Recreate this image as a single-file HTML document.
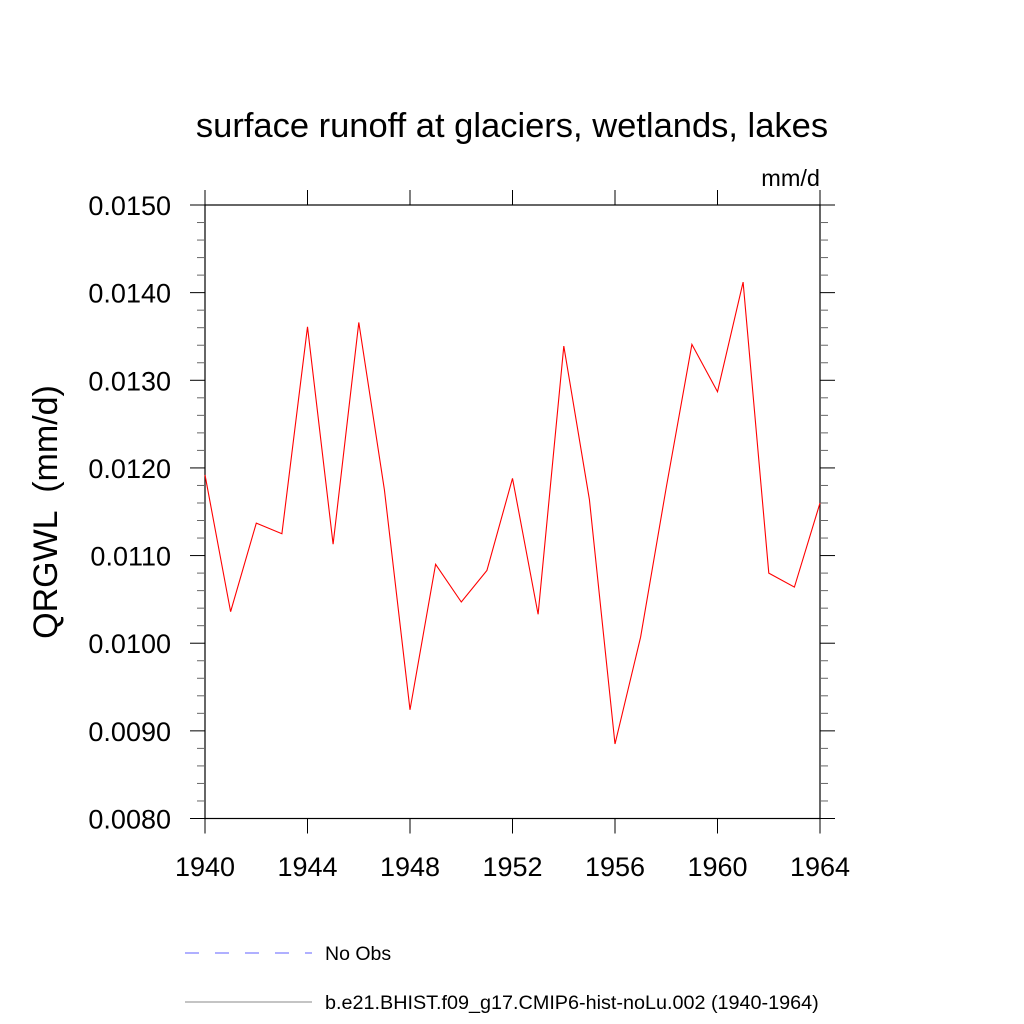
<!DOCTYPE html>
<html><head><meta charset="utf-8"><style>
html,body{margin:0;padding:0;background:#fff;}
svg{display:block;font-family:"Liberation Sans",sans-serif;}
</style></head><body>
<svg id="chart" width="1024" height="1024">
<rect width="1024" height="1024" fill="#fff"/>
<text x="512" y="137" font-size="34.5" text-anchor="middle">surface runoff at glaciers, wetlands, lakes</text>
<text x="820" y="186" font-size="23.5" text-anchor="end">mm/d</text>
<text transform="translate(57,512) rotate(-90)" font-size="34" text-anchor="middle" xml:space="preserve">QRGWL &#160;(mm/d)</text>
<g id="axes"></g>
<g id="series"></g>
<g>
<line x1="185" y1="953" x2="312" y2="953" stroke="#6060ff" stroke-width="1" stroke-dasharray="14,16"/>
<text x="325" y="960" font-size="19.5">No Obs</text>
<line x1="185" y1="1002" x2="312" y2="1002" stroke="#888" stroke-width="1"/>
<text x="325" y="1009" font-size="19.8">b.e21.BHIST.f09_g17.CMIP6-hist-noLu.002 (1940-1964)</text>
</g>
</svg>
<script>
const years = [1940,1941,1942,1943,1944,1945,1946,1947,1948,1949,1950,1951,1952,1953,1954,1955,1956,1957,1958,1959,1960,1961,1962,1963,1964];
const values = [0.01192,0.01036,0.01137,0.01125,0.01361,0.01113,0.01366,0.01175,0.00924,0.01090,0.01047,0.01083,0.01188,0.01033,0.01339,0.01164,0.00885,0.01007,0.01178,0.01341,0.01287,0.01412,0.01080,0.01064,0.01160];
const yTicks = [0.0080,0.0090,0.0100,0.0110,0.0120,0.0130,0.0140,0.0150];
const xTicks = [1940,1944,1948,1952,1956,1960,1964];
const NS='http://www.w3.org/2000/svg';
const L=205,R=820,T=205,B=818.5;
const xS=v=>L+(v-1940)/(1964-1940)*(R-L);
const yS=v=>B-(v-0.008)/(0.015-0.008)*(B-T);
function mk(tag,attrs,parent){const e=document.createElementNS(NS,tag);for(const k in attrs)e.setAttribute(k,attrs[k]);parent.appendChild(e);return e;}
const ax=document.getElementById('axes');
const frame=mk('rect',{x:L,y:T,width:R-L,height:B-T,fill:'none',stroke:'#000','stroke-width':1.2},ax);


for(let v=0.008;v<=0.01501;v+=0.0002){
  const y=yS(v);const major=Math.abs(Math.round(v*10000)%10)<0.5;
  const len=major?15:8;
  const t1=mk('line',{x1:L-len,y1:y,x2:L,y2:y,stroke:major?'#000':'#666','stroke-width':1},ax);
  
  
  const t2=mk('line',{x1:R,y1:y,x2:R+len,y2:y,stroke:major?'#000':'#666','stroke-width':1},ax);
  
  
}
yTicks.forEach(v=>{
  const t=mk('text',{x:171,y:yS(v)+10,'font-size':27,'text-anchor':'end'},ax);
  t.textContent=v.toFixed(4);
  
  
});
xTicks.forEach(v=>{
  const x=xS(v);
  const a=mk('line',{x1:x,y1:T-15,x2:x,y2:T,stroke:'#000'},ax);
  
  
  const b=mk('line',{x1:x,y1:B,x2:x,y2:B+15,stroke:'#000'},ax);
  
  
  const t=mk('text',{x:x,y:876,'font-size':27,'text-anchor':'middle'},ax);
  t.textContent=v;
  
  
});
const pts=years.map((yr,i)=>xS(yr).toFixed(1)+','+yS(values[i]).toFixed(1)).join(' ');
const line=mk('polyline',{points:pts,fill:'none',stroke:'#ff0000','stroke-width':1.1},document.getElementById('series'));


</script>
</body></html>
